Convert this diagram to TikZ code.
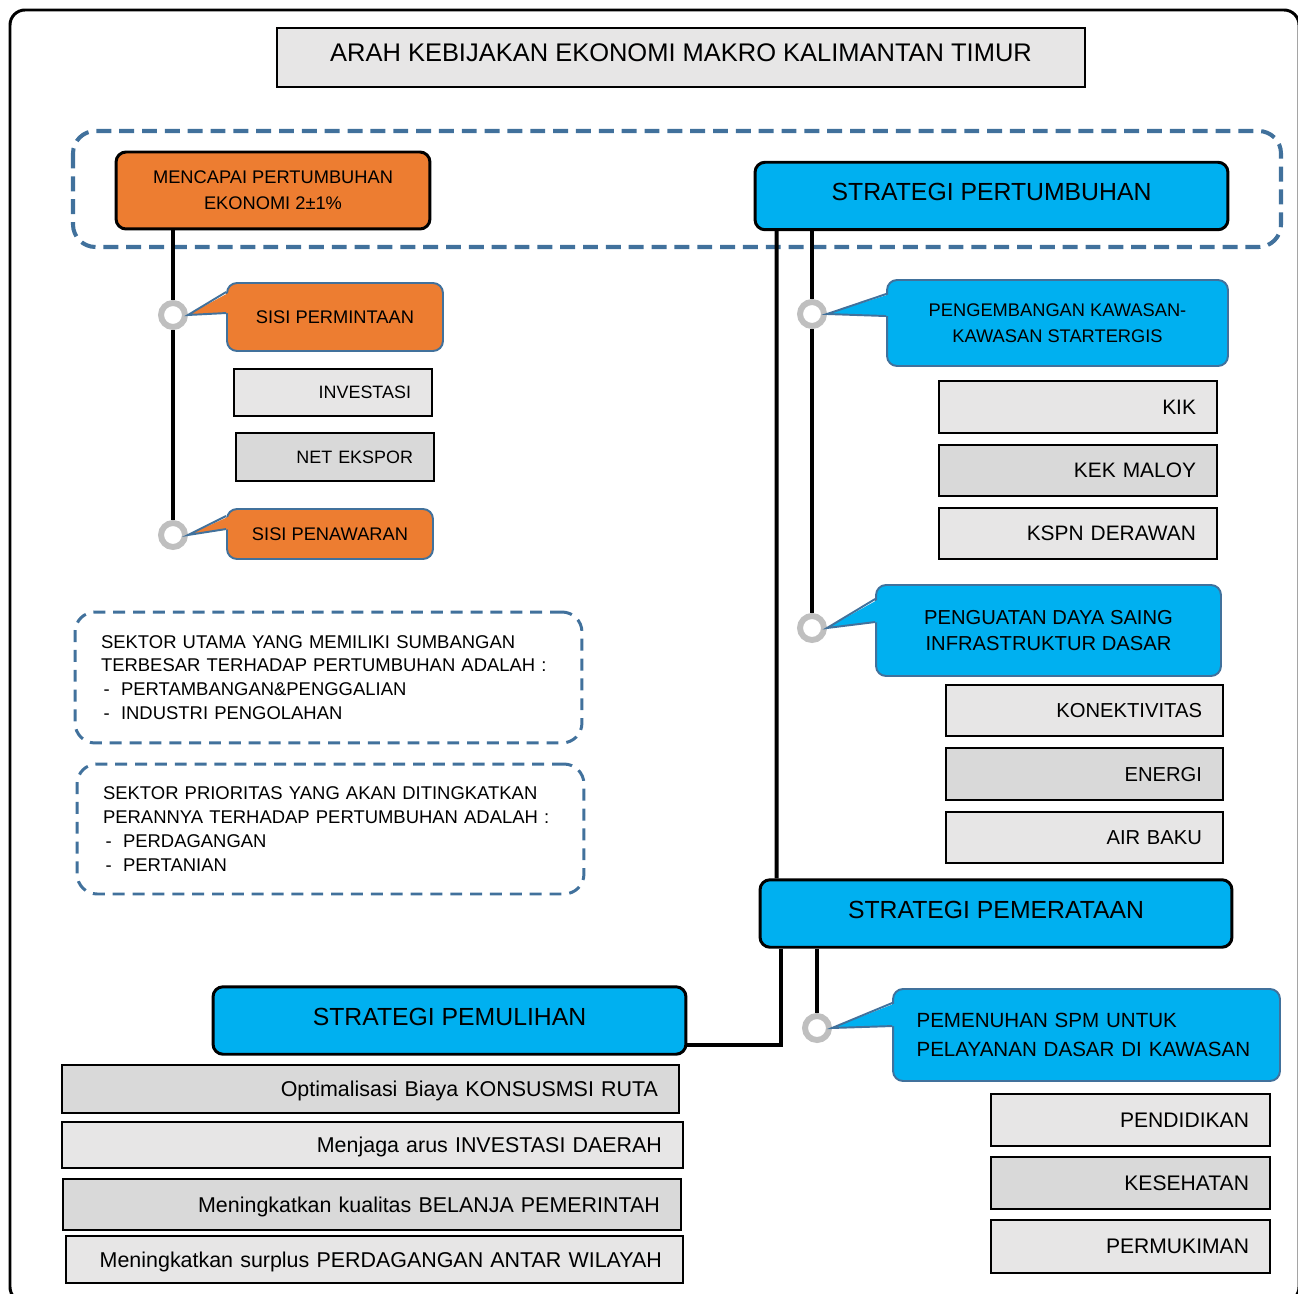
\documentclass[tikz,border=0pt]{standalone}
\usepackage{fontspec}
\setmainfont{Liberation Sans}
\usetikzlibrary{calc}
\definecolor{oren}{HTML}{ED7D31}
\definecolor{biru}{HTML}{00B0F0}
\definecolor{garis}{HTML}{41719C}
\definecolor{abu}{HTML}{E7E6E6}
\definecolor{abutua}{HTML}{D9D9D9}
\definecolor{cincin}{HTML}{BFBFBF}
% tail of a callout: node, ring, upper and lower offset, fill colour
\newcommand{\calltail}[5]{%
  \fill[#5] ($(#1.north west)+(4,#3)$) -- (#2.east) -- ($(#1.north west)+(4,#4)$) -- cycle;
  \draw[tailline] ($(#1.north west)+(0,#3)$) -- (#2.east) -- ($(#1.north west)+(0,#4)$);}
\begin{document}
\begin{tikzpicture}[x=0.02cm,y=-0.02cm,
  conn/.style={line width=2.3pt},
  ring/.style={circle,draw=cincin,line width=3.4pt,fill=white,minimum size=0.48cm,inner sep=0pt},
  strat/.style={draw,line width=1.7pt,fill=biru,rounded corners=0.2cm,minimum width=9.46cm,
    minimum height=1.35cm,text depth=0.16cm,font=\fontsize{14.1}{17}\selectfont},
  call/.style={draw=garis,line width=1.1pt,rounded corners=0.2cm,align=center},
  tailline/.style={draw=garis,line width=1.1pt,line join=miter},
  item/.style={draw,line width=0.8pt,align=right,inner sep=0pt,text depth=0pt},
  note/.style={draw=garis,line width=1.7pt,dash pattern=on 6.8pt off 4.5pt,rounded corners=0.4cm,
    align=left,inner sep=0pt,minimum width=10.14cm,text width=9.1cm,font=\fontsize{10.5}{13.6}\selectfont}]
\useasboundingbox (0,0) rectangle (1298,1294);
\clip (0,0) rectangle (1298,1294);
\draw[line width=1.7pt,rounded corners=0.3cm] (10,10) rectangle (1299,1302);

\node[draw,line width=0.8pt,fill=abu,minimum width=16.16cm,minimum height=1.18cm,text depth=0.18cm,
  font=\fontsize{14.5}{17}\selectfont] (judul) at (681,57.5) {ARAH KEBIJAKAN EKONOMI MAKRO KALIMANTAN TIMUR};
\draw[garis,line width=2.3pt,dash pattern=on 8.5pt off 4.5pt,rounded corners=0.45cm] (73,131) rectangle (1281,247);

% kiri
\node[draw,line width=1.7pt,fill=oren,rounded corners=0.2cm,minimum width=6.28cm,minimum height=1.54cm,
  align=center,font=\fontsize{10.4}{14.7}\selectfont] (mencapai) at (273,190.5) {MENCAPAI PERTUMBUHAN\\EKONOMI 2±1\%};
\node[ring] (cl1) at (173,315) {};
\node[ring] (cl2) at (173,535) {};
\node[call,fill=oren,minimum width=4.32cm,minimum height=1.36cm,font=\fontsize{10.4}{13}\selectfont]
  (permintaan) at (335,317) {SISI PERMINTAAN};
\node[call,fill=oren,minimum width=4.12cm,minimum height=1.0cm,font=\fontsize{10.4}{13}\selectfont]
  (penawaran) at (330,534) {SISI PENAWARAN};
\calltail{permintaan}{cl1}{10}{31}{oren}
\calltail{penawaran}{cl2}{8}{21}{oren}
\draw[conn] (mencapai.south -| cl1) -- (cl1.north);
\draw[conn] (cl1.south) -- (cl2.north);
\node[item,fill=abu,minimum width=3.96cm,minimum height=0.94cm,text width=3.12cm,
  font=\fontsize{10.2}{12}\selectfont] (investasi) at (333,392.5) {INVESTASI};
\node[item,fill=abutua,minimum width=3.96cm,minimum height=0.96cm,text width=3.12cm,
  font=\fontsize{10.2}{12}\selectfont] (ekspor) at (335,457) {NET EKSPOR};

\node[note,minimum height=2.62cm] (utama) at (328.5,677.5) {SEKTOR UTAMA YANG MEMILIKI SUMBANGAN\\
  TERBESAR TERHADAP PERTUMBUHAN ADALAH :\\
  \makebox[0.4cm][l]{\hspace{0.05cm}-}PERTAMBANGAN\&PENGGALIAN\\
  \makebox[0.4cm][l]{\hspace{0.05cm}-}INDUSTRI PENGOLAHAN};
\node[note,minimum height=2.6cm] (prioritas) at (330.5,829) {SEKTOR PRIORITAS YANG AKAN DITINGKATKAN\\
  PERANNYA TERHADAP PERTUMBUHAN ADALAH :\\
  \makebox[0.4cm][l]{\hspace{0.05cm}-}PERDAGANGAN\\
  \makebox[0.4cm][l]{\hspace{0.05cm}-}PERTANIAN};

% kanan
\node[strat] (pertumbuhan) at (991.5,196) {STRATEGI PERTUMBUHAN};
\node[strat,minimum width=9.44cm] (pemerataan) at (996,913.5) {STRATEGI PEMERATAAN};
\node[ring] (cr1) at (812,314) {};
\node[ring] (cr2) at (812,628) {};
\node[ring] (cr3) at (817,1028) {};
\node[call,fill=biru,minimum width=6.82cm,minimum height=1.72cm,font=\fontsize{10.4}{14.7}\selectfont]
  (kawasan) at (1057.5,323) {PENGEMBANGAN KAWASAN-\\KAWASAN STARTERGIS};
\node[call,fill=biru,minimum width=6.9cm,minimum height=1.82cm,font=\fontsize{11.5}{15.3}\selectfont]
  (dayasaing) at (1048.5,630.5) {PENGUATAN DAYA SAING\\INFRASTRUKTUR DASAR};
\node[call,fill=biru,minimum width=7.74cm,minimum height=1.84cm,align=left,text width=6.8cm,
  font=\fontsize{11.7}{16.4}\selectfont] (spm) at (1086.5,1035) {PEMENUHAN SPM UNTUK\\PELAYANAN DASAR DI KAWASAN};
\calltail{kawasan}{cr1}{15}{37}{biru}
\calltail{dayasaing}{cr2}{15}{38}{biru}
\calltail{spm}{cr3}{15}{38}{biru}
\draw[conn] ($(pertumbuhan.south west)+(23,0)$) -- ($(pemerataan.north west)+(18,0)$);
\draw[conn] (pertumbuhan.south -| cr1) -- (cr1.north);
\draw[conn] (cr1.south) -- (cr2.north);
\draw[conn] (pemerataan.south -| cr3) -- (cr3.north);

\node[item,fill=abu,minimum width=5.56cm,minimum height=1.04cm,text width=4.72cm,
  font=\fontsize{11.9}{14}\selectfont] (kik) at (1078,407) {KIK};
\node[item,fill=abutua,minimum width=5.56cm,minimum height=1.02cm,text width=4.72cm,
  font=\fontsize{11.9}{14}\selectfont] (maloy) at (1078,470.5) {KEK MALOY};
\node[item,fill=abu,minimum width=5.56cm,minimum height=1.02cm,text width=4.72cm,
  font=\fontsize{11.9}{14}\selectfont] (derawan) at (1078,533.5) {KSPN DERAWAN};
\node[item,fill=abu,minimum width=5.54cm,minimum height=1.02cm,text width=4.70cm,
  font=\fontsize{11.5}{14}\selectfont] (konektivitas) at (1084.5,710.5) {KONEKTIVITAS};
\node[item,fill=abutua,minimum width=5.54cm,minimum height=1.04cm,text width=4.70cm,
  font=\fontsize{11.5}{14}\selectfont] (energi) at (1084.5,774) {ENERGI};
\node[item,fill=abu,minimum width=5.54cm,minimum height=1.02cm,text width=4.70cm,
  font=\fontsize{11.5}{14}\selectfont] (airbaku) at (1084.5,837.5) {AIR BAKU};
\node[item,fill=abu,minimum width=5.58cm,minimum height=1.04cm,text width=4.74cm,
  font=\fontsize{12}{14}\selectfont] (pendidikan) at (1130.5,1120) {PENDIDIKAN};
\node[item,fill=abutua,minimum width=5.58cm,minimum height=1.04cm,text width=4.74cm,
  font=\fontsize{12}{14}\selectfont] (kesehatan) at (1130.5,1183) {KESEHATAN};
\node[item,fill=abu,minimum width=5.58cm,minimum height=1.06cm,text width=4.74cm,
  font=\fontsize{12}{14}\selectfont] (permukiman) at (1130.5,1246.5) {PERMUKIMAN};

% bawah
\node[strat] (pemulihan) at (449.5,1020.5) {STRATEGI PEMULIHAN};
\draw[conn] ($(pemerataan.south west)+(22,0)$) |- ($(pemulihan.south east)+(0,-11)$);
\node[item,fill=abutua,minimum width=12.34cm,minimum height=0.96cm,text width=11.5cm,
  font=\fontsize{12.2}{14}\selectfont] (konsumsi) at (370.5,1089) {Optimalisasi Biaya KONSUSMSI RUTA};
\node[item,fill=abu,minimum width=12.42cm,minimum height=0.92cm,text width=11.58cm,
  font=\fontsize{12.2}{14}\selectfont] (arus) at (372.5,1145) {Menjaga arus INVESTASI DAERAH};
\node[item,fill=abutua,minimum width=12.36cm,minimum height=1.02cm,text width=11.52cm,
  font=\fontsize{12.2}{14}\selectfont] (belanja) at (372,1204.5) {Meningkatkan kualitas BELANJA PEMERINTAH};
\node[item,fill=abu,minimum width=12.34cm,minimum height=0.94cm,text width=11.5cm,
  font=\fontsize{12.2}{14}\selectfont] (surplus) at (374.5,1259.5) {Meningkatkan surplus PERDAGANGAN ANTAR WILAYAH};
\end{tikzpicture}
\end{document}
